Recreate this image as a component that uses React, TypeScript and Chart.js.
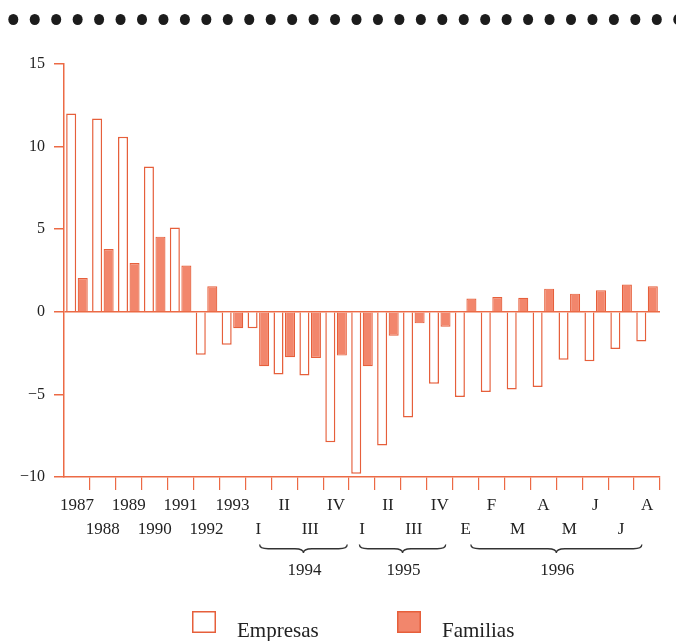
import React, { useEffect, useRef } from 'react';
import { Chart, registerables } from 'chart.js';

Chart.register(...registerables);

const categories = ['1987', '1988', '1989', '1990', '1991', '1992', '1993', 'I', 'II', 'III', 'IV', 'I', 'II', 'III', 'IV', 'E', 'F', 'M', 'A', 'M', 'J', 'J', 'A'];
const empresas = [12.0, 11.7, 10.6, 8.8, 5.1, -2.6, -2.0, -1.0, -3.8, -3.85, -7.9, -9.8, -8.1, -6.4, -4.35, -5.15, -4.85, -4.7, -4.55, -2.9, -3.0, -2.25, -1.8];
const familias = [2.05, 3.8, 2.95, 4.55, 2.8, 1.55, -1.0, -3.3, -2.75, -2.8, -2.65, -3.3, -1.45, -0.7, -0.9, 0.8, 0.9, 0.85, 1.4, 1.1, 1.3, 1.65, 1.55];
const seriesNames = ['Empresas', 'Familias'];
const yearGroups = [
  { label: '1994', from: 7.05, to: 10.43 },
  { label: '1995', from: 10.9, to: 14.23 },
  { label: '1996', from: 15.2, to: 21.8 },
];
const yMin = -10;
const yMax = 15;
const yStep = 5;

const ORANGE = '#ec6a45';
const BAR_BORDER = '#e65f3b';
const SALMON = '#f2866c';
const TEXT = '#222222';
const SERIF = '"Liberation Serif", "Times New Roman", serif';

function drawBrace(ctx: CanvasRenderingContext2D, x1: number, x2: number, y: number, h: number) {
  const m = (x1 + x2) / 2;
  const r = h / 2;
  ctx.beginPath();
  ctx.moveTo(x1, y);
  ctx.quadraticCurveTo(x1, y + r, x1 + r * 2, y + r);
  ctx.lineTo(m - r * 2, y + r);
  ctx.quadraticCurveTo(m, y + r, m, y + h);
  ctx.quadraticCurveTo(m, y + r, m + r * 2, y + r);
  ctx.lineTo(x2 - r * 2, y + r);
  ctx.quadraticCurveTo(x2, y + r, x2, y);
  ctx.stroke();
}

const decorPlugin = {
  id: 'decor',
  afterDraw(chart: any) {
    const ctx: CanvasRenderingContext2D = chart.ctx;
    const xs = chart.scales.x;
    ctx.save();
    // dotted band at the top
    ctx.fillStyle = '#1c1c1c';
    for (let x = 13.3; x < chart.width + 6; x += 21.45) {
      ctx.beginPath();
      ctx.ellipse(x, 19.5, 5, 5.6, 0, 0, Math.PI * 2);
      ctx.fill();
    }
    // braces + year labels
    ctx.strokeStyle = '#333';
    ctx.lineWidth = 1.3;
    ctx.fillStyle = TEXT;
    ctx.font = `17px ${SERIF}`;
    ctx.textAlign = 'center';
    ctx.textBaseline = 'alphabetic';
    yearGroups.forEach((g) => {
      const a = xs.getPixelForValue(g.from);
      const b = xs.getPixelForValue(g.to);
      drawBrace(ctx, a, b, 544.5, 8.5);
      ctx.fillText(g.label, (a + b) / 2 + 1, 575);
    });
    // legend
    const ds = chart.data.datasets;
    const boxes = [192, 397];
    ctx.font = `21px ${SERIF}`;
    ctx.textAlign = 'left';
    ds.forEach((d: any, i: number) => {
      const bx = boxes[i];
      ctx.fillStyle = d.backgroundColor;
      ctx.fillRect(bx, 611, 24, 22);
      ctx.strokeStyle = d.borderColor;
      ctx.lineWidth = 1.5;
      ctx.strokeRect(bx + 0.75, 611.75, 22.5, 20.5);
      ctx.fillStyle = TEXT;
      ctx.fillText(seriesNames[i], bx + 45, 637);
    });
    ctx.restore();
  },
};

export default function App() {
  const ref = useRef<HTMLCanvasElement | null>(null);
  useEffect(() => {
    document.body.style.margin = '0';
    const canvas = ref.current;
    if (!canvas) return;
    const chart = new Chart(canvas, {
      type: 'bar',
      data: {
        labels: categories,
        datasets: [
          {
            label: seriesNames[0],
            data: empresas,
            backgroundColor: '#ffffff',
            borderColor: BAR_BORDER,
            borderWidth: 1.5,
            categoryPercentage: 0.89,
            barPercentage: 0.87,
          },
          {
            label: seriesNames[1],
            data: familias,
            backgroundColor: SALMON,
            borderColor: BAR_BORDER,
            borderWidth: 1.2,
            categoryPercentage: 0.89,
            barPercentage: 0.87,
          },
        ],
      },
      options: {
        responsive: false,
        animation: false,
        layout: { padding: { top: 64, right: 16, bottom: 94, left: 0 } },
        plugins: {
          legend: { display: false },
          tooltip: { enabled: false },
        },
        scales: {
          x: {
            offset: true,
            afterFit: (s: any) => {
              s.height = 70;
            },
            border: { display: true, color: ORANGE, width: 1.5 },
            grid: {
              offset: true,
              drawOnChartArea: false,
              drawTicks: true,
              tickLength: 13,
              lineWidth: 1.2,
              color: (c: any) => (c.index === 0 ? 'rgba(0,0,0,0)' : ORANGE),
            },
            ticks: {
              autoSkip: false,
              maxRotation: 0,
              minRotation: 0,
              padding: 4,
              color: TEXT,
              font: { family: SERIF, size: 17, lineHeight: '24px' } as any,
              callback: (_v: any, i: number) => (i % 2 === 0 ? categories[i] : ['', categories[i]]),
            },
          },
          y: {
            min: yMin,
            max: yMax,
            afterFit: (s: any) => {
              s.width = 64;
            },
            border: { display: true, color: ORANGE, width: 1.5 },
            grid: {
              drawOnChartArea: true,
              drawTicks: true,
              tickLength: 10,
              lineWidth: 1.5,
              tickColor: ORANGE,
              color: (c: any) => (c.tick && c.tick.value === 0 ? ORANGE : 'rgba(0,0,0,0)'),
            },
            ticks: {
              stepSize: yStep,
              padding: 9,
              color: TEXT,
              font: { family: SERIF, size: 16 },
              callback: (v: any) => (Number(v) < 0 ? '\u2212' + Math.abs(Number(v)) : String(v)),
            },
          },
        },
      },
      plugins: [decorPlugin],
    });
    return () => chart.destroy();
  }, []);
  return (
    <div style={{ width: 676, height: 641, background: '#fff' }}>
      <canvas ref={ref} width={676} height={641} style={{ display: 'block' }} />
    </div>
  );
}
